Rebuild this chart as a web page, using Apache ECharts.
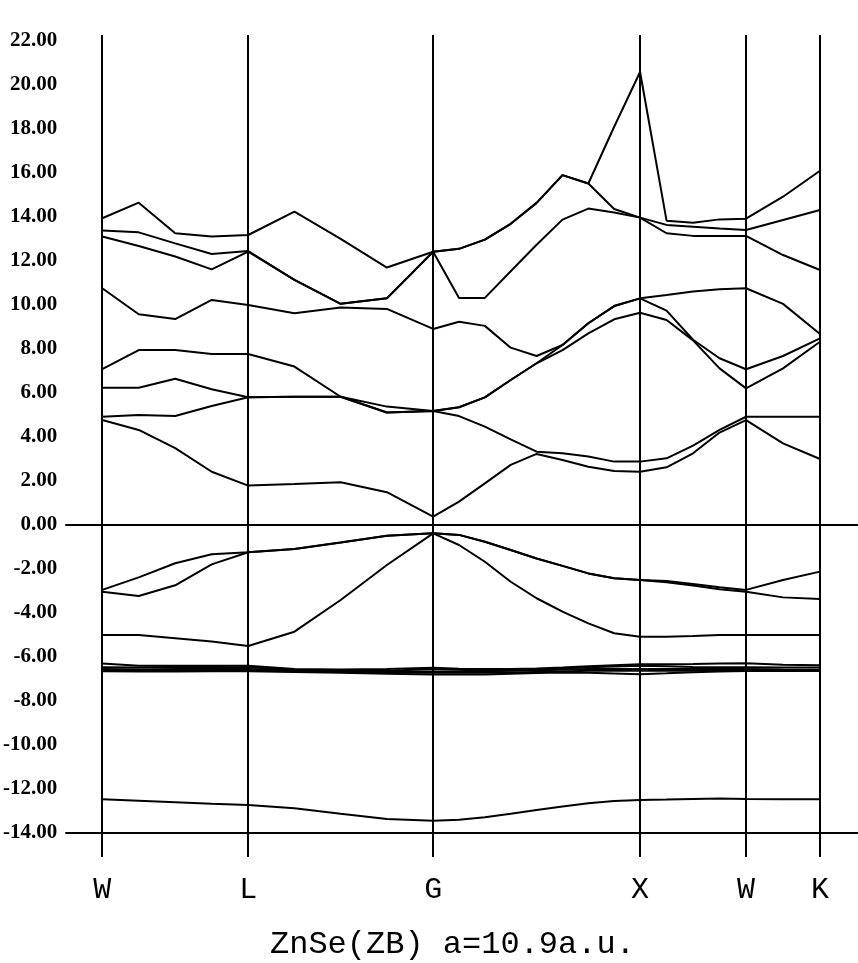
<!DOCTYPE html>
<html><head><meta charset="utf-8">
<script src="https://cdn.jsdelivr.net/npm/echarts@6/dist/echarts.min.js"></script>
<style>html,body{margin:0;padding:0;background:#fff}#c{width:858px;height:963px}</style>
</head><body><div id="c"></div>
<script>
// k-path sample positions (path length units), W-L-G-X-W-K
const kpos = [0,36.5,73,109.5,146,192.25,238.5,284.75,331,356.9,382.75,408.6,434.5,460.4,486.25,512.1,538,564.5,591,617.5,644,681,718];
const symPos = [0,146,331,538,644,718];
const symLabels = ['W','L','G','X','W','K'];
const yTicks = [-14,-12,-10,-8,-6,-4,-2,0,2,4,6,8,10,12,14,16,18,20,22];
const titleText = 'ZnSe(ZB) a=10.9a.u.';

// energies (eV), bands sorted from lowest
const bandS  = [-12.47,-12.53,-12.60,-12.67,-12.73,-12.87,-13.12,-13.36,-13.44,-13.40,-13.28,-13.12,-12.95,-12.80,-12.65,-12.55,-12.50,-12.48,-12.45,-12.43,-12.45,-12.47,-12.47];
const bandD5 = [-6.65,-6.66,-6.66,-6.65,-6.65,-6.68,-6.72,-6.76,-6.80,-6.80,-6.79,-6.76,-6.73,-6.71,-6.72,-6.75,-6.78,-6.74,-6.69,-6.66,-6.64,-6.64,-6.64];
const bandD4 = [-6.60,-6.63,-6.63,-6.63,-6.62,-6.65,-6.68,-6.70,-6.72,-6.72,-6.72,-6.70,-6.68,-6.66,-6.63,-6.62,-6.62,-6.62,-6.62,-6.60,-6.60,-6.60,-6.60];
const bandD3 = [-6.55,-6.57,-6.55,-6.55,-6.55,-6.62,-6.65,-6.66,-6.66,-6.66,-6.65,-6.62,-6.60,-6.58,-6.55,-6.55,-6.55,-6.55,-6.55,-6.55,-6.55,-6.57,-6.58];
const bandD2 = [-6.47,-6.48,-6.45,-6.45,-6.47,-6.58,-6.62,-6.62,-6.55,-6.58,-6.62,-6.60,-6.57,-6.52,-6.47,-6.43,-6.40,-6.42,-6.45,-6.47,-6.47,-6.48,-6.48];
const bandD1 = [-6.29,-6.40,-6.40,-6.40,-6.40,-6.55,-6.57,-6.55,-6.49,-6.53,-6.55,-6.55,-6.52,-6.48,-6.42,-6.37,-6.33,-6.33,-6.32,-6.30,-6.28,-6.35,-6.38];
const bandV3 = [-5.00,-5.00,-5.15,-5.30,-5.50,-4.85,-3.41,-1.82,-0.38,-0.91,-1.67,-2.58,-3.33,-3.94,-4.47,-4.92,-5.08,-5.08,-5.05,-5.00,-5.00,-5.00,-5.00];
const bandV2 = [-3.03,-3.23,-2.74,-1.79,-1.24,-1.09,-0.80,-0.49,-0.38,-0.45,-0.76,-1.14,-1.52,-1.86,-2.20,-2.42,-2.50,-2.60,-2.75,-2.92,-3.03,-3.29,-3.36];
const bandV1 = [-2.95,-2.38,-1.74,-1.33,-1.24,-1.09,-0.80,-0.49,-0.38,-0.45,-0.76,-1.14,-1.52,-1.86,-2.20,-2.42,-2.50,-2.55,-2.68,-2.83,-2.95,-2.50,-2.12];
const bandC1 = [4.77,4.32,3.49,2.42,1.79,1.86,1.94,1.49,0.38,1.06,1.89,2.73,3.23,2.95,2.65,2.45,2.42,2.62,3.26,4.20,4.77,3.71,3.00];
const bandC2 = [4.92,5.00,4.95,5.41,5.81,5.83,5.83,5.11,5.18,4.95,4.47,3.89,3.33,3.26,3.11,2.88,2.88,3.03,3.61,4.32,4.92,4.92,4.92];
const bandC3 = [6.24,6.24,6.65,6.17,5.81,5.83,5.83,5.11,5.18,5.35,5.80,6.59,7.35,7.95,8.71,9.35,9.65,9.32,8.39,7.12,6.21,7.12,8.33];
const bandC4 = [7.08,7.95,7.95,7.77,7.77,7.20,5.83,5.38,5.18,5.35,5.80,6.59,7.35,8.18,9.17,9.95,10.30,9.74,8.42,7.58,7.08,7.68,8.48];
const bandC5 = [10.76,9.58,9.36,10.23,10.00,9.62,9.88,9.82,8.91,9.24,9.05,8.06,7.68,8.18,9.17,9.95,10.30,10.45,10.61,10.71,10.76,10.05,8.68];
const bandC6 = [13.11,12.68,12.20,11.62,12.42,11.14,10.05,10.30,12.42,10.32,10.32,11.53,12.74,13.88,14.38,14.20,13.97,13.26,13.14,13.14,13.14,12.27,11.59];
const bandC7 = [13.38,13.30,12.80,12.32,12.45,11.14,10.05,10.30,12.42,12.55,12.97,13.69,14.64,15.90,15.52,14.36,13.97,13.64,13.56,13.48,13.41,13.86,14.32];
const bandC8 = [13.94,14.65,13.26,13.11,13.18,14.24,13.00,11.70,12.42,12.55,12.97,13.69,14.64,15.90,15.52,18.10,20.59,13.83,13.74,13.89,13.92,14.92,16.10];

const bands = [bandS,bandD5,bandD4,bandD3,bandD2,bandD1,bandV3,bandV2,bandV1,
               bandC1,bandC2,bandC3,bandC4,bandC5,bandC6,bandC7,bandC8];

const chart = echarts.init(document.getElementById('c'), null, {renderer:'canvas'});
const series = bands.map((b, i) => ({
  type: 'line',
  data: kpos.map((k, j) => [k, b[j]]),
  symbol: 'none',
  silent: true,
  clip: false,
  lineStyle: {color: '#000', width: 2},
  z: 3
}));
series[0].markLine = {
  symbol: 'none',
  silent: true,
  animation: false,
  label: {show: false},
  lineStyle: {color: '#000', width: 2, type: 'solid'},
  data: symPos.map(x => ({xAxis: x})).concat([{yAxis: 0}, {yAxis: -14}])
};

chart.setOption({
  animation: false,
  backgroundColor: '#fff',
  title: {
    text: titleText,
    left: 265, top: 924,
    textStyle: {fontFamily: 'Liberation Mono', fontSize: 32, fontWeight: 'normal', color: '#000'}
  },
  grid: {left: 65, right: 0, top: 35, bottom: 106},
  xAxis: {
    type: 'value', min: -37, max: 756,
    axisLine: {show: false}, axisTick: {show: false}, splitLine: {show: false},
    axisLabel: {
      customValues: symPos,
      formatter: v => symLabels[symPos.indexOf(v)],
      fontFamily: 'Liberation Mono', fontSize: 30, color: '#000', margin: 18
    }
  },
  yAxis: {
    type: 'value', min: -15.09, max: 22.27,
    axisLine: {show: false}, axisTick: {show: false}, splitLine: {show: false},
    axisLabel: {
      customValues: yTicks,
      formatter: v => v.toFixed(2),
      fontFamily: 'Liberation Serif', fontWeight: 'bold', fontSize: 21, color: '#000', margin: 8
    }
  },
  series: series
});
</script>
</body></html>
